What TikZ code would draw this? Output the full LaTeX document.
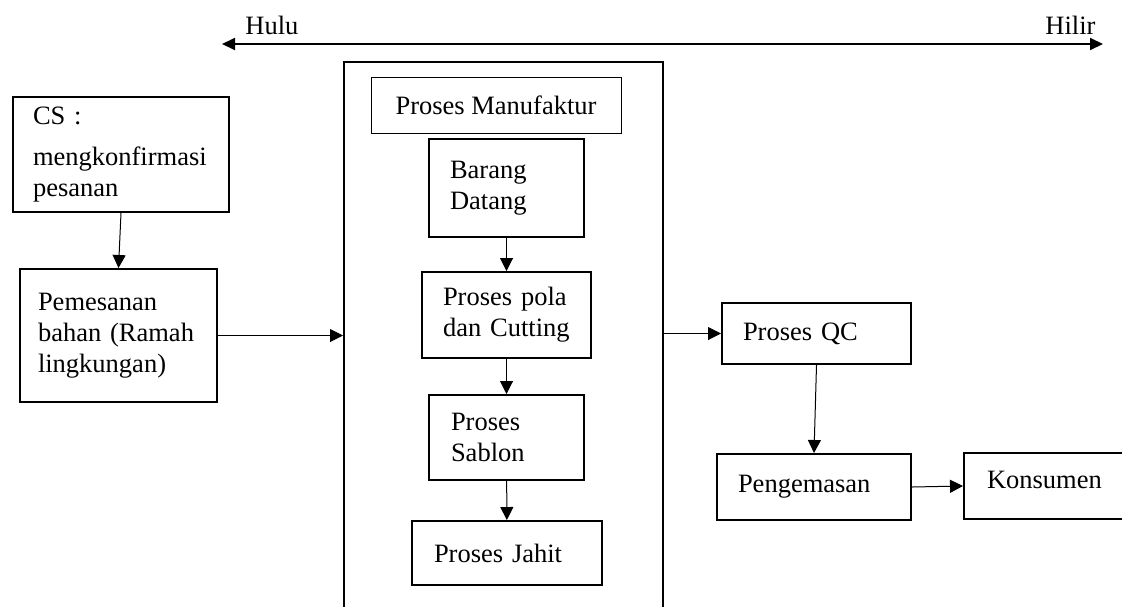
\documentclass[tikz,border=0pt]{standalone}
\usepackage{fontspec}
\setmainfont{Liberation Serif}
\usetikzlibrary{arrows.meta}

\begin{document}
\begin{tikzpicture}[x=0.5pt,y=-0.5pt,
        every node/.style={font=\fontsize{13.25pt}{15.5pt}\selectfont},
        procbox/.style={draw,line width=1pt,align=left,inner xsep=10.5pt,inner ysep=0pt},
        flow/.style={line width=0.5pt,-{Triangle[length=6.5pt,width=6.5pt]}}]

        \useasboundingbox (0,0) rectangle (1122,606);

        %HULU - HILIR
        \coordinate (upstream) at (222,44);
        \coordinate (downstream) at (1103,44);
        \draw[line width=0.9pt,{Triangle[length=6.5pt,width=6pt]}-{Triangle[length=6.5pt,width=6pt]}] (upstream)--(downstream);
        \node[anchor=base west,inner sep=0pt] (hulu) at (245,34) {Hulu};
        \node[anchor=base west,inner sep=0pt] (hilir) at (1045,34) {Hilir};

        %LEFT SIDE (ordering)
        \node[procbox,inner xsep=10pt,text width=88pt,minimum height=57.5pt] (cs) at (121,154.5) {CS :\\[5pt] mengkonfirmasi\\ pesanan};
        \node[procbox,inner xsep=9pt,text width=80.5pt,minimum height=66.5pt] (order) at (118.5,335.5) {Pemesanan\\ bahan (Ramah\\ lingkungan)};

        %MANUFACTURING (open at the bottom of the page)
        \node[draw,line width=1pt,minimum width=159.5pt,minimum height=320pt] (mfg) at (503.5,382) {};
        \node[draw,line width=0.5pt,minimum width=125pt,minimum height=28pt] (pm) at (496,105) {Proses Manufaktur};
        \node[procbox,text width=56.5pt,minimum height=49pt] (datang) at (506.5,188) {Barang\\ Datang};
        \node[procbox,text width=63.5pt,minimum height=43pt] (pola) at (506.5,315) {Proses pola\\ dan Cutting};
        \node[procbox,inner xsep=11pt,text width=55.5pt,minimum height=42.5pt] (sablon) at (506.5,437.5) {Proses\\ Sablon};
        \node[procbox,inner xsep=11pt,text width=73pt,minimum height=32pt] (jahit) at (507,553) {Proses Jahit};

        %RIGHT SIDE (downstream)
        \node[procbox,text width=73.5pt,minimum height=30.5pt] (qc) at (816.5,333.5) {Proses QC};
        \node[procbox,text width=76pt,minimum height=33pt] (kemas) at (814,487) {Pengemasan};
        \node[procbox,inner xsep=11.5pt,text width=65pt,minimum height=33pt,text depth=6pt] (konsumen) at (1052,486) {Konsumen};

        %ARROWS
        \draw[flow] (cs.south) -- (order.north);
        \draw[flow] (order.east) -- (order.east -| mfg.west);
        \foreach \a/\b in {datang/pola,pola/sablon,sablon/jahit}{
            \draw[flow] (\a) -- (\b);
        } %end of chain
        \draw[flow] (mfg.east |- qc.west) -- (qc.west);
        \draw[flow] (qc.south) -- (kemas.north);
        \draw[flow] (kemas.east) -- (konsumen.west);
    \end{tikzpicture}
\end{document}
